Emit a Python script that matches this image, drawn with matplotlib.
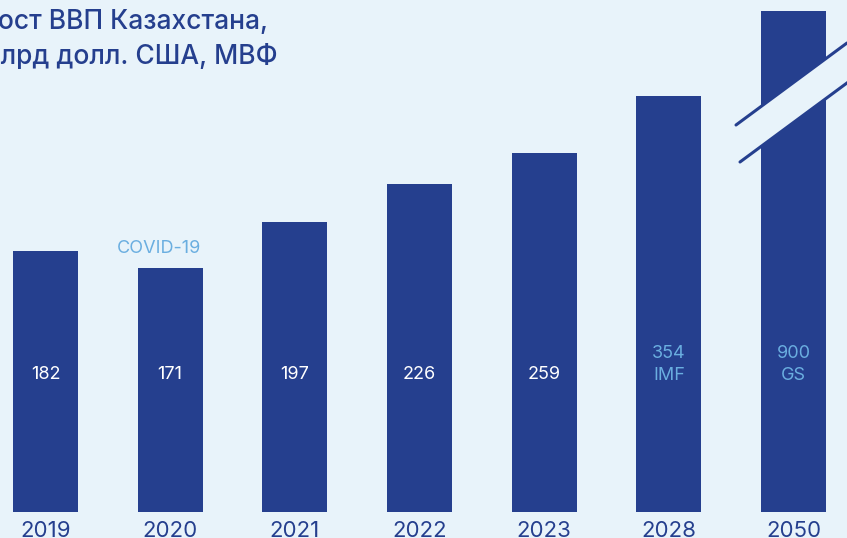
import matplotlib.pyplot as plt
from matplotlib.patches import Polygon

plt.rcParams['font.family'] = ['Inter', 'DejaVu Sans']

years = ['2019', '2020', '2021', '2022', '2023', '2028', '2050']
values = [182, 171, 197, 226, 259, 354, 900]
# drawn heights as they appear in the picture (scale is not linear, 2050 is broken)
bar_heights = [182, 170, 202, 229, 250, 290, 349]
sources = ['', '', '', '', '', 'IMF', 'GS']
note = 'COVID-19'
title_lines = ['Рост ВВП Казахстана,', 'млрд долл. США, МВФ']

bg = '#E8F3FA'
navy = '#253F8E'
light = '#6AAEE0'

fig = plt.figure(figsize=(8.47, 5.38), dpi=100)
fig.patch.set_facecolor(bg)
ax = fig.add_axes([0, 0, 1, 1])
ax.set_facecolor(bg)

x = list(range(len(years)))
ax.bar(x, bar_heights, width=0.52, color=navy, zorder=2)
ax.set_xlim(-0.365, 6.429)
ax.set_ylim(-18.1, 357.0)
ax.axis('off')

for i, (v, s) in enumerate(zip(values, sources)):
    if s:
        ax.text(i, 103, f'{v}\n{s}', ha='center', va='center', color=light,
                fontsize=13, linespacing=1.4, zorder=3)
    else:
        ax.text(i, 96, str(v), ha='center', va='center', color='white',
                fontsize=13, zorder=3)
    ax.text(i, -13.5, years[i], ha='center', va='center', color=navy,
            fontsize=16, zorder=3)

ax.text(0.91, 184, note, ha='center', va='center', color=light, fontsize=13)

# break marks across the last bar
def px2data(px, py):
    return ax.transData.inverted().transform(fig.transFigure.transform((px / 847, 1 - py / 538)))

upper = [px2data(736, 125), px2data(847, 43)]
lower = [px2data(740, 162), px2data(851, 80)]
gap = Polygon([upper[0], upper[1], lower[1], lower[0]], closed=True,
              facecolor=bg, edgecolor='none', zorder=4)
ax.add_patch(gap)
for seg in (upper, lower):
    ax.plot([seg[0][0], seg[1][0]], [seg[0][1], seg[1][1]], color=navy,
            lw=2.2, solid_capstyle='round', zorder=5)

# title is cut off at the left edge, as in the source graphic
fig.text(268 / 847, 1 - 29 / 538, title_lines[0], ha='right', va='baseline',
         color=navy, fontsize=19, fontweight='medium')
fig.text(278 / 847, 1 - 64 / 538, title_lines[1], ha='right', va='baseline',
         color=navy, fontsize=19, fontweight='medium')

fig.savefig('out.png', dpi=100, facecolor=bg)
